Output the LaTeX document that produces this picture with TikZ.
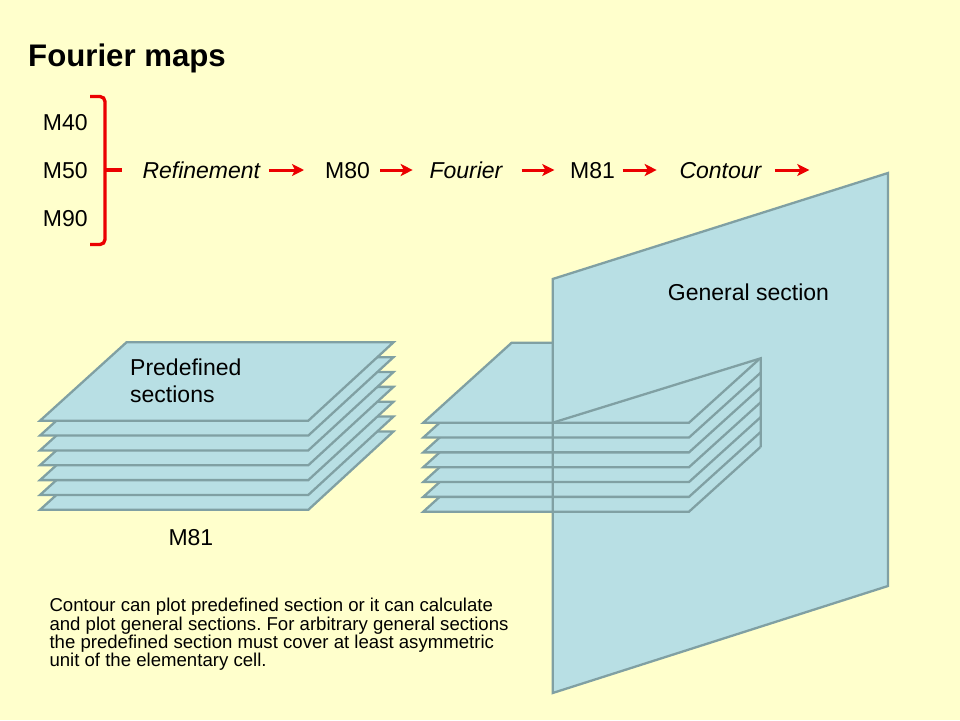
\documentclass[tikz,border=0pt]{standalone}
\usepackage{fontspec}
\setmainfont{Liberation Sans}
\usetikzlibrary{arrows.meta}
\definecolor{bg}{RGB}{255,255,204}
\definecolor{platefill}{RGB}{184,223,228}
\definecolor{plateedge}{RGB}{128,160,163}
\definecolor{arrowred}{RGB}{235,0,0}
\frenchspacing
\begin{document}
\begin{tikzpicture}[x=1pt,y=-1pt,
  plate/.style={fill=platefill,draw=plateedge,line width=2.3pt,line join=miter},
  edgeline/.style={draw=plateedge,line width=2.3pt},
  lbl/.style={inner sep=0pt,font=\fontsize{23}{27}\selectfont,anchor=base west},
  rowtxt/.style={inner sep=0pt,font=\fontsize{23}{27}\selectfont,text height=16.5pt,text depth=0pt,anchor=west},
  redarrow/.style={draw=arrowred,line width=3pt,-{Stealth[length=12pt,width=12pt,inset=3pt]}},
  bracket/.style={draw=arrowred,line width=3.3pt,rounded corners=5pt}]
\useasboundingbox (0,0) rectangle (960,720);
\fill[bg] (0,0) rectangle (960,720);

% title
\node[anchor=base west,inner sep=0pt,font=\fontsize{31.2}{36}\selectfont\bfseries] (title) at (28,66.7) {Fourier maps};

% inputs and bracket
\node[lbl] (m40) at (42.7,130) {M40};
\node[rowtxt] (m50) at (42.7,170) {M50};
\node[lbl] (m90) at (42.7,226) {M90};
\draw[bracket] (90,96.5) -- (105,96.5) -- (105,244.5) -- (90,244.5);
\draw[draw=arrowred,line width=3.3pt] (105,170) -- (121.7,170);

% chain
\node[rowtxt,font=\fontsize{23}{27}\selectfont\itshape] (ref) at (142.3,170) {Refinement};
\node[rowtxt] (m80) at (325,170) {M80};
\node[rowtxt,font=\fontsize{23}{27}\selectfont\itshape] (four) at (429.3,170) {Fourier};
\node[rowtxt] (m81) at (570,170) {M81};
\node[rowtxt,font=\fontsize{23}{27}\selectfont\itshape] (cont) at (679.3,170) {Contour};
\coordinate (cend) at (809.3,170);
\draw[redarrow,shorten <=8.6pt,shorten >=21pt] (ref.east) -- (m80.west);
\draw[redarrow,shorten <=10pt,shorten >=16.6pt] (m80.east) -- (four.west);
\draw[redarrow,shorten <=19pt,shorten >=15.7pt] (four.east) -- (m81.west);
\draw[redarrow,shorten <=7.4pt,shorten >=22.6pt] (m81.east) -- (cont.west);
\draw[redarrow,shorten <=13.3pt] (cont.east) -- (cend);

% left stack
\foreach \i in {6,5,...,0}{
  \pgfmathsetmacro{\yb}{420.7+14.85*\i}
  \pgfmathsetmacro{\yt}{\yb-78.4}
  \filldraw[plate] (40,\yb) -- (308.3,\yb) -- (393.5,\yt) -- (126.5,\yt) -- cycle;
}
\node[lbl,align=left] (predef) at (130,402.7) {Predefined\\sections};
\node[lbl] (m81b) at (168.3,545) {M81};

% right stack
\foreach \i in {6,5,...,0}{
  \pgfmathsetmacro{\yb}{422.7+14.83*\i}
  \pgfmathsetmacro{\yt}{\yb-80}
  \filldraw[plate] (423.3,\yb) -- (689,\yb) -- (777.4,\yt) -- (511.7,\yt) -- cycle;
}

% general section plane
\filldraw[plate] (552.7,279) -- (888,173) -- (888,586) -- (552.7,693) -- cycle;

% part of the stack in front of the plane
\begin{scope}
  \clip (552.7,422.7) -- (760.7,358.3) -- (760.7,600) -- (552.7,600) -- cycle;
  \foreach \i in {6,5,...,0}{
    \pgfmathsetmacro{\yb}{422.7+14.83*\i}
    \pgfmathsetmacro{\yt}{\yb-80}
    \filldraw[plate] (423.3,\yb) -- (689,\yb) -- (777.4,\yt) -- (511.7,\yt) -- cycle;
  }
\end{scope}
\draw[edgeline,line join=miter] (552.7,422.7) -- (760.7,358.3) -- (760.7,447.3);
\draw[edgeline] (552.7,279) -- (552.7,693);

\node[lbl] (gen) at (667.7,300) {General section};

% note
\node[anchor=base west,inner sep=0pt,align=left,font=\fontsize{18.6}{18.33}\selectfont] (note) at (49.3,666.7)
  {Contour can plot predefined section or it can calculate\\and plot general sections. For arbitrary general sections\\the predefined section must cover at least asymmetric\\unit of the elementary cell.};
\end{tikzpicture}
\end{document}
